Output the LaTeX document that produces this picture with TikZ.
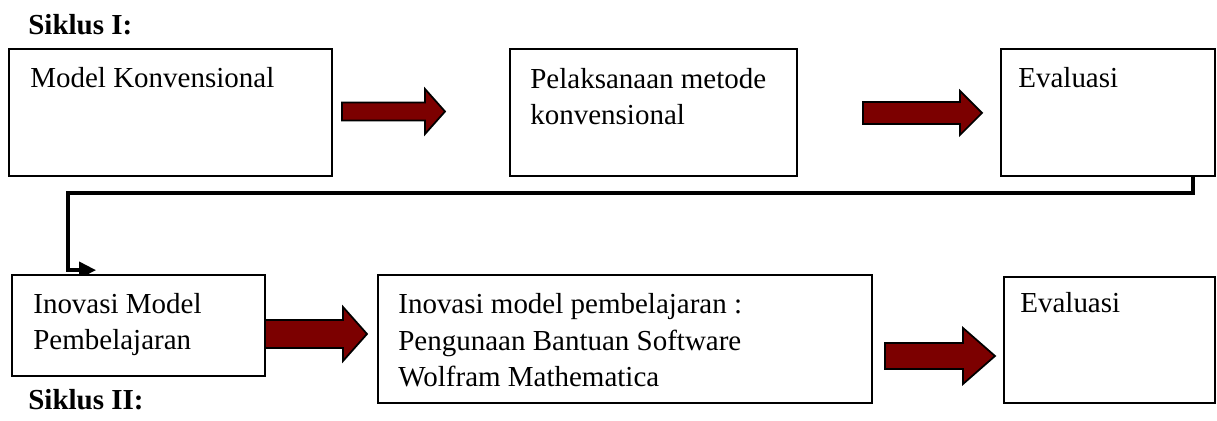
\documentclass[tikz,border=0pt]{standalone}
\usepackage{fontspec}
\setmainfont{Liberation Serif}
\usetikzlibrary{arrows.meta,backgrounds}
\definecolor{arrowred}{RGB}{124,0,0}
\tikzset{
  box/.style={draw, line width=1pt, fill=white, inner sep=0pt},
  txt/.style={anchor=base west, inner sep=0pt, align=left, font=\fontsize{16.5}{21}\selectfont},
  title/.style={txt, font=\fontsize{16.5}{21}\selectfont\bfseries},
  bigarrow/.style={draw, line width=1pt, fill=arrowred, line join=miter},
  link/.style={line width=2.3pt, -{Triangle[length=0.34cm,width=0.32cm]}}
}
\begin{document}
\begin{tikzpicture}[x=0.02cm, y=-0.02cm]
\useasboundingbox (0,0) rectangle (1217,421);
% siklus I
\node[title] (s1) at (28,35) {Siklus I:};
\node[box, minimum width=6.46cm, minimum height=2.54cm] (b1) at (170.5,112.5) {};
\node[box, minimum width=5.74cm, minimum height=2.54cm] (b2) at (653.5,112.5) {};
\node[box, minimum width=4.28cm, minimum height=2.54cm] (b3) at (1108,112.5) {};
\node[txt] (t1) at (30,88) {Model Konvensional};
\node[txt] (t2) at (530,125) {Pelaksanaan metode\\konvensional};
\node[txt] (t3) at (1018,88) {Evaluasi};
% siklus II
\node[box, minimum width=5.06cm, minimum height=2.02cm] (b4) at (138.5,325.5) {};
\node[box, minimum width=9.88cm, minimum height=2.56cm] (b5) at (625,339) {};
\node[box, minimum width=4.22cm, minimum height=2.52cm] (b6) at (1109.5,340) {};
\node[txt] (t4) at (33,350) {Inovasi Model\\Pembelajaran};
\node[txt] (t5) at (398,387) {Inovasi model pembelajaran :\\Pengunaan Bantuan Software\\Wolfram Mathematica};
\node[txt] (t6) at (1020,313) {Evaluasi};
\node[title] (s2) at (28,410) {Siklus II:};
% block arrows
\foreach \xa/\xb/\xc/\yc/\bw/\hw in {342/425/445/111.5/9/22.5, 863/960/982/113/11/22, 265/343/367/334/14/27, 885/963/995/356/13/28} {
  \filldraw[bigarrow] (\xa,\yc-\bw) -- (\xb,\yc-\bw) -- (\xb,\yc-\hw) -- (\xc,\yc)
    -- (\xb,\yc+\hw) -- (\xb,\yc+\bw) -- (\xa,\yc+\bw) -- cycle;
}
% from siklus I to siklus II
\begin{pgfonlayer}{background}
\draw[link] ([xshift=-0.46cm]b3.south east) -- ++(0,16)
  -| ([xshift=1.14cm,yshift=0.08cm]b4.north west) -- ++(28,0);
\end{pgfonlayer}
\end{tikzpicture}
\end{document}
